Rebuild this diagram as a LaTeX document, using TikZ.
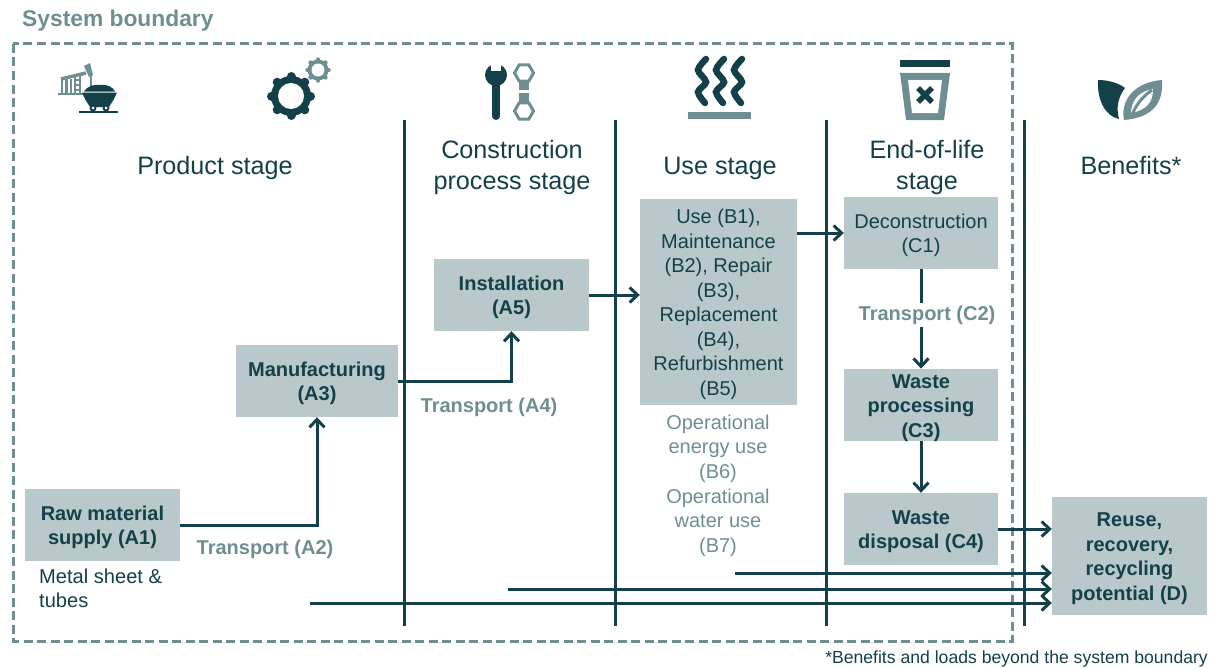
\documentclass[tikz,border=0pt]{standalone}
\usepackage{fontspec}
\setmainfont{Liberation Sans}
\usepackage{xcolor}
\usetikzlibrary{arrows.meta}

\definecolor{darkteal}{HTML}{134049}
\definecolor{midteal}{HTML}{6F8E91}
\definecolor{paleteal}{HTML}{B8C8CB}

\tikzset{
    stagebox/.style={fill=paleteal, text=darkteal, font=\fontsize{20}{24.5}\selectfont, align=center, inner sep=0pt},
    boldbox/.style={stagebox, font=\fontsize{20}{24.5}\selectfont\bfseries},
    stagehead/.style={text=darkteal, font=\fontsize{25.2}{31}\selectfont, align=center},
    translabel/.style={text=midteal, font=\fontsize{20}{24.5}\selectfont\bfseries, align=center},
    sidenote/.style={text=midteal, font=\fontsize{20}{24.5}\selectfont, align=center},
    divider/.style={darkteal, line width=3pt},
    flow/.style={darkteal, line width=3pt, ->}
}

% taller first line, sets the text a little lower in its node
\newcommand{\lowertext}{\rule{0pt}{0.96em}}

% gear: centre, body radius, tooth radius, hole radius, tooth width, colour
\newcommand{\gearicon}[6]{
    \fill[#6] (#1) circle (#2);
    \foreach \ang in {0,45,...,315} {
        \draw[#6, line width=#5pt, line cap=round] (#1) -- ++(\ang:#3);
    }
    \fill[white] (#1) circle (#4);
}

\begin{document}
\begin{tikzpicture}[
            x = 1pt, y = -1pt, % reference pixels, y downwards
            > = {Straight Barb[length=8pt,width=15pt,line width=3pt]} % open arrow head
        ]
\useasboundingbox (0,0) rectangle (1215,669);

% boundary
\draw[midteal, line width=3pt, dash pattern=on 9pt off 4.5pt] (13,44) rectangle (1012,641);
\node[text=midteal, anchor=west, inner sep=0pt, font=\fontsize{22.8}{27}\selectfont\bfseries] (boundary) at (22,21) {System boundary};
\node[text=darkteal, anchor=east, inner sep=0pt, font=\fontsize{17.6}{20}\selectfont] (footnote) at (1208,659) {*Benefits and loads beyond the system boundary};

% columns
\foreach \xpos in {404,615,826,1024} {
    \draw[divider] (\xpos,120) -- (\xpos,626);
}

% headings
\node[stagehead] (product) at (215,165) {\lowertext Product stage};
\node[stagehead] (construction) at (512,165) {\lowertext Construction\\process stage};
\node[stagehead] (use) at (720,165) {\lowertext Use stage};
\node[stagehead] (eol) at (927,165) {\lowertext End-of-life\\stage};
\node[stagehead] (benefits) at (1131,163) {\lowertext Benefits*};

% boxes
\node[boldbox, minimum width=155pt, minimum height=72pt] (A1) at (102.5,525) {\lowertext Raw material\\supply (A1)};
\node[boldbox, minimum width=162pt, minimum height=72pt] (A3) at (317,381) {\lowertext Manufacturing\\(A3)};
\node[boldbox, minimum width=155pt, minimum height=72pt] (A5) at (511.5,295) {\lowertext Installation\\(A5)};
\node[stagebox, minimum width=157pt, minimum height=206pt] (B) at (718.5,302) {\lowertext Use (B1),\\Maintenance\\(B2), Repair\\(B3),\\Replacement\\(B4),\\Refurbishment\\(B5)};
\node[stagebox, minimum width=154pt, minimum height=72pt] (C1) at (921,233) {\lowertext Deconstruction\\(C1)};
\node[boldbox, minimum width=154pt, minimum height=72pt] (C3) at (921,405) {\lowertext Waste\\processing\\(C3)};
\node[boldbox, minimum width=154pt, minimum height=72pt] (C4) at (921,529) {\lowertext Waste\\disposal (C4)};
\node[boldbox, minimum width=155pt, minimum height=118pt] (D) at (1129.5,556) {\lowertext Reuse,\\recovery,\\recycling\\potential (D)};

% other labels
\node[text=darkteal, font=\fontsize{20.1}{24}\selectfont, align=left, anchor=west, inner sep=0pt] (metal) at (39,588) {Metal sheet \&\\tubes};
\node[sidenote] (B6) at (718,446) {\lowertext Operational\\energy use\\(B6)};
\node[sidenote] (B7) at (718,520) {\lowertext Operational\\water use\\(B7)};
\node[translabel] (A2label) at (265,547) {\lowertext Transport (A2)};
\node[translabel] (A4label) at (489,405) {\lowertext Transport (A4)};

% connectors
\draw[flow] (A1.east) -- (A1.east -| A3.south) -- (A3.south);
\draw[flow] (A3.east) -- (A3.east -| A5.south) -- (A5.south);
\draw[flow] (A5.east) -- (A5.east -| B.west);
\draw[flow] (B.east |- C1.west) -- (C1.west);
\draw[flow] (C1.south) -- (C3.north) node[translabel, fill=white, pos=0.46, inner sep=3pt, xshift=6pt] (C2label) {Transport (C2)};
\draw[flow] (C3.south) -- (C4.north);
\draw[flow] (C4.east) -- (C4.east -| D.west);

\coordinate (fromuse) at (735,573);
\coordinate (fromconstruction) at (508,589);
\coordinate (fromproduct) at (310,603);
\draw[flow] (fromuse) -- (fromuse -| D.west);
\draw[flow] (fromconstruction) -- (fromconstruction -| D.west);
\draw[flow] (fromproduct) -- (fromproduct -| D.west);

% icon: pump and cart
\fill[midteal] (58,92.5) rectangle (84,95);
\draw[midteal, line width=2.4pt] (62,79) -- (62,93) (66.5,79) -- (66.5,93) (71,79) -- (71,93);
\draw[midteal, line width=1.6pt] (75,75) -- (75,93) (80,75) -- (80,93) (75,80) -- (80,80) (75,85) -- (80,85) (75,90) -- (80,90);
\draw[midteal, line width=3.5pt] (61,79) -- (86,73);
\fill[midteal] (84,66) -- (90,63) -- (93,75) -- (89,77) -- cycle;
\draw[midteal, line width=1.5pt] (91,75) -- (91,90);
\fill[darkteal] (84,91.5) .. controls (87,86) and (95,84) .. (100,85) .. controls (107,84) and (113,87) .. (115,91.5) -- cycle;
\fill[darkteal] (82,92.5) -- (117,92.5) -- (114,99) -- (109,107) -- (90,107) -- (85,99) -- cycle;
\fill[darkteal] (79,111) rectangle (118,113);
\fill[darkteal] (93,108) circle (3.5) (106,108) circle (3.5);
\fill[white] (93,108) circle (1.5) (106,108) circle (1.5);

% icon: gears
\gearicon{291,96}{20}{19.5}{13}{9}{darkteal}
\gearicon{318,70}{10.5}{10.5}{6.5}{4.5}{midteal}

% icon: tools
\fill[darkteal] (496,75) circle (11);
\fill[white] (491,60) rectangle (501,71);
\draw[darkteal, line width=8pt, line cap=round] (496,80) -- (496,116);
\foreach \hexy in {73,111} {
    \draw[midteal, line width=3pt] (524,\hexy) +(0:9.5) -- +(60:9.5) -- +(120:9.5) -- +(180:9.5) -- +(240:9.5) -- +(300:9.5) -- cycle;
}
\fill[midteal] (519,82) rectangle (529,90);
\fill[midteal] (519,93) rectangle (529,102);

% icon: heat
\foreach \wavex in {702,720,738} {
    \draw[darkteal, line width=6.5pt, line cap=round] plot[smooth] coordinates {(\wavex+4,59) (\wavex-4,70) (\wavex+4,82) (\wavex-4,92) (\wavex+3,103)};
}
\fill[midteal] (688,112) rectangle (751,118.5);

% icon: bin
\fill[darkteal] (900,60) rectangle (950,67);
\fill[midteal] (900,73) -- (950,73) -- (944,120) -- (906,120) -- cycle;
\fill[white] (908,80) -- (942,80) -- (938,113) -- (912,113) -- cycle;
\draw[darkteal, line width=5.5pt] (918,88) -- (932,102) (932,88) -- (918,102);

% icon: leaves
\fill[darkteal] (1098,80) .. controls (1110,80) and (1120,84) .. (1125,88) .. controls (1118,97) and (1116,108) .. (1119,119) .. controls (1105,116) and (1097,100) .. (1098,80) -- cycle;
\fill[midteal] (1162,80) .. controls (1164,105) and (1150,118) .. (1124,120) .. controls (1120,100) and (1135,82) .. (1162,80) -- cycle;
\fill[white] (1153,89) .. controls (1153,102) and (1147,110) .. (1131,113) .. controls (1131,100) and (1140,91) .. (1153,89) -- cycle;
\draw[midteal, line width=3pt] (1132,115) .. controls (1136,105) and (1142,97) .. (1152,90);

\end{tikzpicture}
\end{document}
